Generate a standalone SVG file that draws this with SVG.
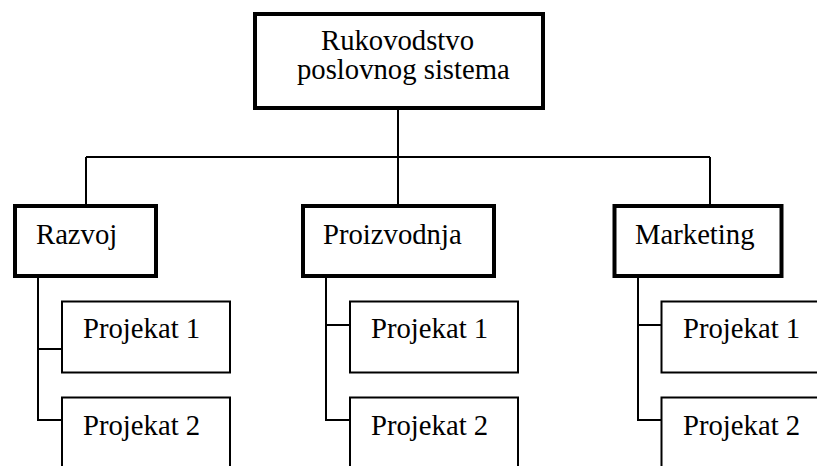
<svg xmlns="http://www.w3.org/2000/svg" width="817" height="466" viewBox="0 0 817 466">
  <style>
    .main { fill: #fff; stroke: #000; stroke-width: 4; }
    .proj { fill: #fff; stroke: #000; stroke-width: 2; }
    .lbl { font-family: "Liberation Serif", "Times New Roman", serif; font-size: 28.7px; fill: #000; }
    .wire { fill: none; stroke: #000; stroke-width: 2; }
  </style>
  <rect width="817" height="466" fill="#fff"/>

  <!-- connectors -->
  <g id="connectors" class="wire">
    <path d="M398 110 V157"/>
    <path d="M86 157 H710"/>
    <path d="M86 157 V206"/>
    <path d="M398 157 V206"/>
    <path d="M710 157 V206"/>
    <!-- Razvoj branch -->
    <path d="M38 278 V420 H62"/>
    <path d="M38 349 H62"/>
    <!-- Proizvodnja branch -->
    <path d="M326 278 V420 H350"/>
    <path d="M326 325 H350"/>
    <!-- Marketing branch -->
    <path d="M638 278 V420 H662"/>
    <path d="M638 325 H662"/>
  </g>

  <g id="root">
    <rect class="main" x="255" y="14" width="288" height="94"/>
    <text class="lbl" x="321" y="50">Rukovodstvo</text>
    <text class="lbl" x="297" y="79">poslovnog sistema</text>
  </g>

  <g id="razvoj">
    <rect class="main" x="15" y="206" width="141" height="70"/>
    <text class="lbl" x="36" y="244">Razvoj</text>
  </g>
  <g id="proizvodnja">
    <rect class="main" x="303" y="206" width="191" height="70"/>
    <text class="lbl" x="323" y="244">Proizvodnja</text>
  </g>
  <g id="marketing">
    <rect class="main" x="614.5" y="206" width="167" height="70"/>
    <text class="lbl" x="635" y="244">Marketing</text>
  </g>

  <g id="razvoj-p1">
    <rect class="proj" x="62" y="301.5" width="168" height="71"/>
    <text class="lbl" x="83" y="338">Projekat 1</text>
  </g>
  <g id="razvoj-p2">
    <rect class="proj" x="62" y="397.5" width="168" height="80"/>
    <text class="lbl" x="83" y="435">Projekat 2</text>
  </g>
  <g id="proizvodnja-p1">
    <rect class="proj" x="350" y="301.5" width="168" height="71"/>
    <text class="lbl" x="371" y="338">Projekat 1</text>
  </g>
  <g id="proizvodnja-p2">
    <rect class="proj" x="350" y="397.5" width="168" height="80"/>
    <text class="lbl" x="371" y="435">Projekat 2</text>
  </g>
  <g id="marketing-p1">
    <rect class="proj" x="661.5" y="301.5" width="168" height="71"/>
    <text class="lbl" x="683" y="338">Projekat 1</text>
  </g>
  <g id="marketing-p2">
    <rect class="proj" x="661.5" y="397.5" width="168" height="80"/>
    <text class="lbl" x="683" y="435">Projekat 2</text>
  </g>
</svg>
